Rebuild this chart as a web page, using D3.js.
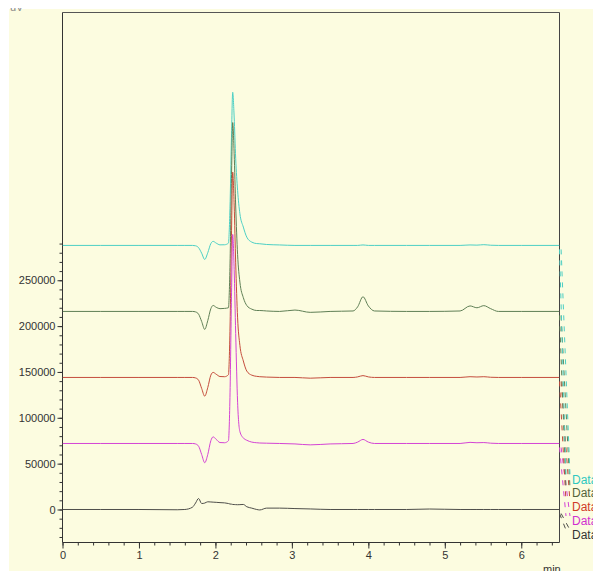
<!DOCTYPE html>
<html>
<head>
<meta charset="utf-8">
<script src="https://cdnjs.cloudflare.com/ajax/libs/d3/7.8.5/d3.min.js"></script>
<style>
  body { margin: 0; background: #ffffff; }
  svg { display: block; }
</style>
</head>
<body>
<svg id="chrom"></svg>
<script>
// retention times (min), shared by all traces
var times = [0, 0.5, 1.0, 1.5, 1.6, 1.7, 1.74, 1.78, 1.82, 1.86, 1.9, 1.94, 1.97, 2.01, 2.06, 2.12,
  2.17, 2.19, 2.21, 2.226, 2.245, 2.265, 2.29, 2.32, 2.365, 2.41, 2.475, 2.54, 2.58, 2.67, 2.84,
  3.04, 3.24, 3.5, 3.8, 3.86, 3.93, 4.0, 4.08, 4.5, 4.8, 5.2, 5.33, 5.42, 5.51, 5.6, 5.7, 6.0, 6.5];

// signal of each run, relative to its offset
var run1 = [0, 0, 0, -300, 0, 2500, 7000, 12000, 6500, 7000, 8400, 8200, 8000, 7800, 7500, 7200,
  6500, 6000, 5800, 5500, 5400, 5300, 5200, 5300, 5500, 3000, 1500, 0, -500, 1500, 1500,
  1000, 600, 0, 0, 0, 0, 0, 0, 0, 500, 0, 0, 0, 0, 0, 0, 0, 0];
var run2 = [0, 0, 0, 0, 0, 0, -500, -3000, -12000, -21000, -12000, 3000, 7200, 4500, 1000, 800,
  3000, 50000, 160000, 228000, 190000, 120000, 45000, 13000, 6000, 3500, 1500, 800, 500, 300, 0,
  -500, -1500, -500, 0, 1500, 4400, 1500, 0, 0, 0, 0, 1200, 800, 1000, 300, 0, 0, 0];
var run3 = [0, 0, 0, 0, 0, 0, -500, -3000, -12000, -20400, -11000, 2500, 5500, 3500, 1000, 800,
  3000, 50000, 155000, 224000, 188000, 125000, 65000, 35000, 18000, 7000, 2500, 1200, 800, 400, 0,
  0, -800, 0, 0, 600, 2000, 600, 0, 0, 0, 0, 800, 500, 800, 200, 0, 0, 0];
var run4 = [0, 0, 0, 0, 0, 0, -500, -3000, -11000, -19600, -10000, 3000, 6500, 4500, 3000, 3300,
  4000, 48000, 145000, 206000, 172000, 115000, 62000, 32000, 15000, 6500, 2500, 1000, 1000, 500, 0,
  1500, -1000, 0, 500, 5000, 16000, 6000, 500, 0, 0, 500, 6000, 4000, 6300, 3000, 0, 0, 0];
var run5 = [0, 0, 0, 0, 0, 0, -400, -2500, -8500, -15300, -8000, 2000, 4400, 2500, 600, 700,
  2500, 40000, 118000, 167000, 140000, 95000, 60000, 34600, 20000, 9000, 3600, 2000, 1800, 1000, 500,
  0, 0, 0, 0, 0, 500, 0, 0, 0, 0, 0, 500, 300, 800, 200, 0, 0, 0];

var runs = [run1, run2, run3, run4, run5];
var offsets = [0, 72000, 144000, 216000, 288000];
var colors = ["#4e4e4a", "#d444d4", "#c44c3c", "#5f7f55", "#4ccfc4"];
var legendColors = ["#333333", "#d030d0", "#d03a28", "#55663c", "#2ec8c0"];
var legendLabels = ["Data", "Data", "Data", "Data", "Data"];

var yMajor = [0, 50000, 100000, 150000, 200000, 250000];

function draw() {
  var W = 593, H = 571;
  var plot = { left: 62.5, right: 559.5, top: 12.5, bottom: 542.5 };

  var svg = d3.select("#chrom")
    .attr("width", W)
    .attr("height", H)
    .style("font-family", "'Liberation Sans', Arial, Helvetica, sans-serif");

  svg.append("rect")
    .attr("x", 9).attr("y", 9)
    .attr("width", W - 9).attr("height", H - 9)
    .attr("fill", "#fcfce0");

  // clipped unit label at the very top
  svg.append("clipPath").attr("id", "topclip")
    .append("rect").attr("x", 9).attr("y", 8).attr("width", 60).attr("height", 10);
  svg.append("text")
    .attr("clip-path", "url(#topclip)")
    .attr("x", 10).attr("y", 11)
    .style("font-size", "11px")
    .attr("fill", "#888")
    .text("uV");

  var x = d3.scaleLinear().domain([0, 6.5]).range([plot.left, plot.right]);
  var y = d3.scaleLinear().domain([-36000, 542000]).range([plot.bottom, plot.top]);

  // frame
  svg.append("line")
    .attr("x1", plot.left).attr("x2", plot.right)
    .attr("y1", plot.top).attr("y2", plot.top)
    .attr("stroke", "#555");
  svg.append("line")
    .attr("x1", plot.right).attr("x2", plot.right)
    .attr("y1", plot.top).attr("y2", plot.bottom)
    .attr("stroke", "#444");

  // x axis
  var xAxis = d3.axisBottom(x)
    .tickValues(d3.range(0, 7, 1))
    .tickFormat(d3.format("d"))
    .tickSize(6)
    .tickPadding(3);
  var gx = svg.append("g")
    .attr("transform", "translate(0," + plot.bottom + ")")
    .call(xAxis);
  gx.select(".domain").attr("d", "M" + plot.left + ",0H" + plot.right);

  var xMinor = d3.axisBottom(x)
    .tickValues(d3.range(0, 65, 2).map(function(d) { return d / 10; }))
    .tickFormat("")
    .tickSize(3);
  svg.append("g")
    .attr("transform", "translate(0," + plot.bottom + ")")
    .call(xMinor)
    .select(".domain").remove();

  // y axis
  var yAxis = d3.axisLeft(y)
    .tickValues(yMajor)
    .tickFormat(d3.format("d"))
    .tickSize(5)
    .tickPadding(2);
  var gy = svg.append("g")
    .attr("transform", "translate(" + plot.left + ",0)")
    .call(yAxis);
  gy.select(".domain").attr("d", "M0," + plot.top + "V" + plot.bottom);

  var yMinor = d3.axisLeft(y)
    .tickValues(d3.range(-30000, 300000, 10000))
    .tickFormat("")
    .tickSize(3);
  svg.append("g")
    .attr("transform", "translate(" + plot.left + ",0)")
    .call(yMinor)
    .select(".domain").remove();

  svg.selectAll(".tick text")
    .style("font-size", "11px")
    .attr("fill", "#333");
  svg.selectAll(".tick line, .domain").attr("stroke", "#333");

  svg.append("text")
    .attr("x", 543).attr("y", 573)
    .style("font-size", "11px")
    .attr("fill", "#333")
    .text("min");

  // traces
  svg.append("clipPath").attr("id", "plotclip")
    .append("rect")
    .attr("x", plot.left).attr("y", plot.top)
    .attr("width", plot.right - plot.left).attr("height", plot.bottom - plot.top);

  var line = d3.line()
    .x(function(d) { return x(d[0]); })
    .y(function(d) { return y(d[1]); })
    .curve(d3.curveMonotoneX);

  var traces = svg.append("g").attr("clip-path", "url(#plotclip)");
  for (var i = runs.length - 1; i >= 0; i--) {
    var pts = times.map(function(t, j) { return [t, runs[i][j] + offsets[i]]; });
    traces.append("path")
      .attr("d", line(pts))
      .attr("fill", "none")
      .attr("stroke", colors[i])
      .attr("stroke-width", 1);
  }

  // legend labels with dashed leaders
  var legendY = [539, 525, 511, 497, 484];
  for (var k = 0; k < runs.length; k++) {
    var ex = x(times[times.length - 1]);
    var ey = y(runs[k][runs[k].length - 1] + offsets[k]);
    [0, 4].forEach(function(dx) {
      svg.append("line")
        .attr("x1", ex + dx * 0.4).attr("y1", ey + 4)
        .attr("x2", 566 + dx).attr("y2", legendY[k] - 9)
        .attr("stroke", colors[k])
        .attr("stroke-width", 1)
        .attr("stroke-dasharray", "5,6");
    });
    svg.append("text")
      .attr("x", 572).attr("y", legendY[k])
      .style("font-size", "12px")
      .attr("fill", legendColors[k])
      .text(legendLabels[k]);
  }
}

draw();
</script>
</body>
</html>
